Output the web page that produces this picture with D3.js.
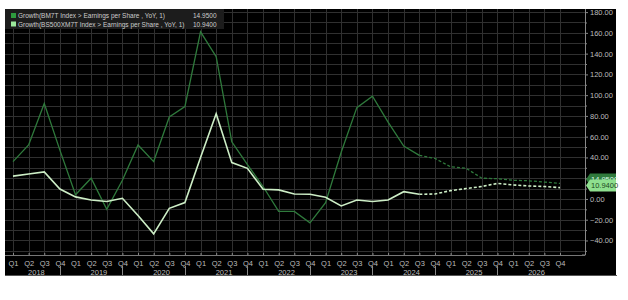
<!DOCTYPE html>
<html>
<head>
<meta charset="utf-8">
<script src="https://cdn.jsdelivr.net/npm/d3@7"></script>
<style>
  body { margin: 0; background: #fff; }
  text { font-family: "Liberation Sans", Arial, sans-serif; }
</style>
</head>
<body>
<svg id="chart" width="628" height="300"></svg>
<script>
// quarters 2018Q1 .. 2026Q4
var years = ['2018', '2019', '2020', '2021', '2022', '2023', '2024', '2025', '2026'];
var quarterLabels = ['Q1', 'Q2', 'Q3', 'Q4'];

// Growth(BM7T Index > Earnings per Share, YoY, 1)
var bm7t = [36, 52, 92, 47, 4, 20, -10, 18, 52, 36, 79, 89,
            161, 137, 55, 33, 12, -12, -12, -23, -3.5, 45, 88, 99,
            74, 51, 42, 39, 31, 29.5, 20, 19.5, 18, 17.5, 16.3, 14.95];
// Growth(BS500XM7T Index > Earnings per Share, YoY, 1)
var bs500 = [22, 24, 26, 9.6, 2, -1, -2.5, 0.6, -16, -33.6, -9, -3.5,
             40, 82, 35, 29.5, 9.3, 8.7, 4.8, 4.5, 1.6, -6.7, -1, -2.5,
             -1, 7, 4.5, 4.8, 8, 10, 12, 15, 13.5, 12.5, 12, 10.94];
var forecastFrom = 26; // 2024 Q3 onwards is an estimate (dashed)

var yLabels = [-40, -20, 0, 20, 40, 60, 80, 100, 120, 140, 160, 180];
var legendNames = ['Growth(BM7T Index > Earnings per Share , YoY, 1)',
                   'Growth(BS500XM7T Index > Earnings per Share , YoY, 1)'];
var lastValues = ['14.9500', '10.9400'];

var keys = [];
years.forEach(function(yr) {
  quarterLabels.forEach(function(q) { keys.push(yr + q); });
});

var svg = d3.select('#chart');
var plotTop = 9, plotBottom = 255, axisX = 585;

var x = d3.scalePoint().domain(keys).range([13, 560]);
var y = d3.scaleLinear().domain([-54, 183]).range([plotBottom, plotTop]);

var darkCol = '#2f7a3c', lightCol = '#cdeec6', labelCol = '#bdbdbd';

svg.append('rect').attr('x', 5).attr('y', plotTop).attr('width', 611).attr('height', 266).attr('fill', '#000');
svg.append('line').attr('x1', 5).attr('x2', 617).attr('y1', 275.5).attr('y2', 275.5)
  .attr('stroke', '#555').attr('stroke-width', 1);

// grid
var grid = svg.append('g').attr('stroke', '#303030').attr('stroke-width', 1);
grid.selectAll('.v').data(keys).enter().append('line')
  .attr('x1', function(d) { return Math.round(x(d)) + 0.5; })
  .attr('x2', function(d) { return Math.round(x(d)) + 0.5; })
  .attr('y1', plotTop).attr('y2', plotBottom);
grid.selectAll('.h').data(d3.range(-50, 181, 10)).enter().append('line')
  .attr('x1', 5).attr('x2', axisX)
  .attr('y1', function(d) { return Math.round(y(d)) + 0.5; })
  .attr('y2', function(d) { return Math.round(y(d)) + 0.5; });

// right axis
var yAxis = svg.append('g').attr('transform', 'translate(' + axisX + ',0)')
  .call(d3.axisRight(y).tickValues(yLabels).tickSize(3).tickFormat(d3.format('.2f')));
yAxis.select('.domain').attr('d', 'M0.5,' + plotTop + 'V' + plotBottom + 'H-3').attr('stroke', '#888');
yAxis.selectAll('.tick line').attr('stroke', '#888');
yAxis.selectAll('text').attr('fill', labelCol).attr('font-size', 7.5).attr('x', 5);
var yMinor = svg.append('g').attr('transform', 'translate(' + axisX + ',0)')
  .call(d3.axisRight(y).tickValues(d3.range(-50, 181, 20)).tickSize(2).tickFormat(''));
yMinor.select('.domain').remove();
yMinor.selectAll('.tick line').attr('stroke', '#888');

// bottom axis
var xAxis = svg.append('g').attr('transform', 'translate(0,' + plotBottom + ')')
  .call(d3.axisBottom(x).tickSize(-2).tickPadding(6).tickFormat(function(d) { return d.slice(4); }));
xAxis.select('.domain').attr('d', 'M5,0.5H' + axisX).attr('stroke', '#777');
xAxis.selectAll('.tick line').attr('stroke', '#888');
xAxis.selectAll('text').attr('fill', labelCol).attr('font-size', 7.5);

var yearG = svg.append('g');
yearG.selectAll('line').data(years.slice(0, -1)).enter().append('line')
  .attr('x1', function(d) { return Math.round(x(d + 'Q4')) + 0.5; })
  .attr('x2', function(d) { return Math.round(x(d + 'Q4')) + 0.5; })
  .attr('y1', 266).attr('y2', 275).attr('stroke', '#888');
yearG.selectAll('text').data(years).enter().append('text')
  .attr('x', function(d) { return (x(d + 'Q1') + x(d + 'Q4')) / 2; })
  .attr('y', 274.5).attr('text-anchor', 'middle')
  .attr('fill', labelCol).attr('font-size', 7.5).text(function(d) { return d; });

// lines
var line = d3.line()
  .x(function(d) { return x(keys[d.i]); })
  .y(function(d) { return y(d.v); });

function drawSeries(vals, col, w) {
  var pts = vals.map(function(v, i) { return { i: i, v: v }; });
  svg.append('path').datum(pts.slice(0, forecastFrom + 1))
    .attr('d', line).attr('fill', 'none').attr('stroke', col).attr('stroke-width', w);
  svg.append('path').datum(pts.slice(forecastFrom))
    .attr('d', line).attr('fill', 'none').attr('stroke', col).attr('stroke-width', w)
    .attr('stroke-dasharray', '3,2');
}
drawSeries(bm7t, darkCol, 1.3);
drawSeries(bs500, lightCol, 1.6);

// value flags on the right axis (the light one sits on top, as in the terminal)
function flag(cy, fill, txtCol, label) {
  svg.append('path')
    .attr('d', 'M' + (axisX + 1) + ',' + cy + 'L' + (axisX + 5) + ',' + (cy - 6) + 'H616V' + (cy + 6) + 'H' + (axisX + 5) + 'Z')
    .attr('fill', fill);
  svg.append('text').attr('x', axisX + 6).attr('y', cy + 2.6)
    .attr('font-size', 7.5).attr('fill', txtCol).text(label);
}
flag(y(bm7t[bm7t.length - 1]) - 4, '#2f7a3c', '#dfe', lastValues[0]);
flag(y(bs500[bs500.length - 1]) - 2, '#8fe08f', '#1d4a1d', lastValues[1]);

// legend
var leg = svg.append('g');
leg.append('rect').attr('x', 5).attr('y', plotTop).attr('width', 219).attr('height', 20).attr('fill', '#1c1c1c');
[darkCol, '#8fe08f'].forEach(function(c, i) {
  var cy = 16 + i * 8.5;
  leg.append('rect').attr('x', 11).attr('y', cy - 3).attr('width', 5).attr('height', 5).attr('fill', i ? '#9be89b' : '#2e9a3e');
  leg.append('text').attr('x', 18).attr('y', cy + 2).attr('font-size', 6.5).attr('fill', '#ccc').text(legendNames[i]);
  leg.append('text').attr('x', 193).attr('y', cy + 2).attr('font-size', 6.5).attr('fill', '#ccc').text(lastValues[i]);
});
</script>
</body>
</html>
